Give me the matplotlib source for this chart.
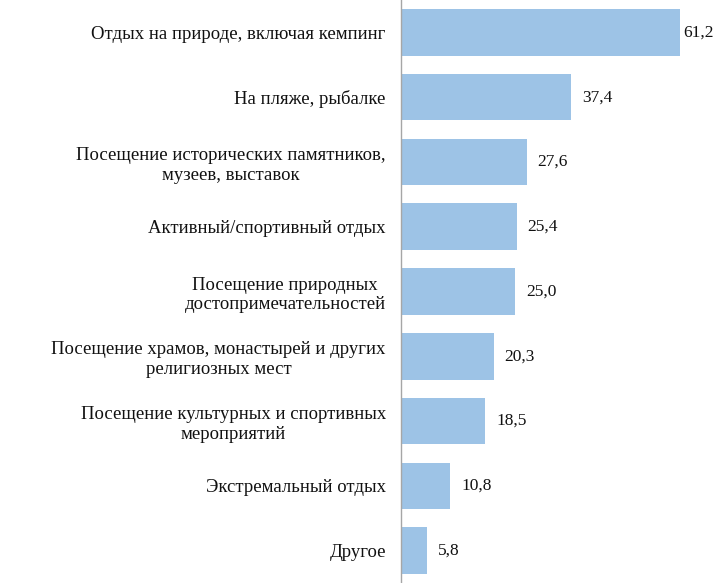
import matplotlib.pyplot as plt
import numpy as np

categories = [
    'Отдых на природе, включая кемпинг',
    'На пляже, рыбалке',
    'Посещение исторических памятников,\nмузеев, выставок',
    'Активный/спортивный отдых',
    'Посещение природных\nдостопримечательностей',
    'Посещение храмов, монастырей и других\nрелигиозных мест',
    'Посещение культурных и спортивных\nмероприятий',
    'Экстремальный отдых',
    'Другое',
]
values = [61.2, 37.4, 27.6, 25.4, 25.0, 20.3, 18.5, 10.8, 5.8]

plt.rcParams['font.family'] = ['Liberation Serif', 'DejaVu Serif']

fig = plt.figure(figsize=(7.2, 5.83), dpi=100)
ax = fig.add_axes([0.557, 0.0, 0.443, 1.0])

y = np.arange(len(categories))
ax.barh(y, values, height=0.72, color='#9dc3e6')
ax.set_ylim(len(categories) - 0.5, -0.5)
ax.set_xlim(0, 70)

for yi, v in zip(y, values):
    # push label in if it would run past the right edge
    ax.text(min(v + 2.4, 62.0), yi, f'{v:.1f}'.replace('.', ','), va='center', ha='left',
            fontsize=12.5, color='#111111')

ax.set_yticks(y)
ax.set_yticklabels(categories, fontsize=13.5, color='#111111',
                   multialignment='center', linespacing=1.2)
ax.tick_params(axis='y', length=0, pad=11)
ax.set_xticks([])

for side in ['top', 'right', 'bottom']:
    ax.spines[side].set_visible(False)
ax.spines['left'].set_color('#a6a6a6')
ax.spines['left'].set_linewidth(1.0)

fig.savefig('out.png', dpi=100)
